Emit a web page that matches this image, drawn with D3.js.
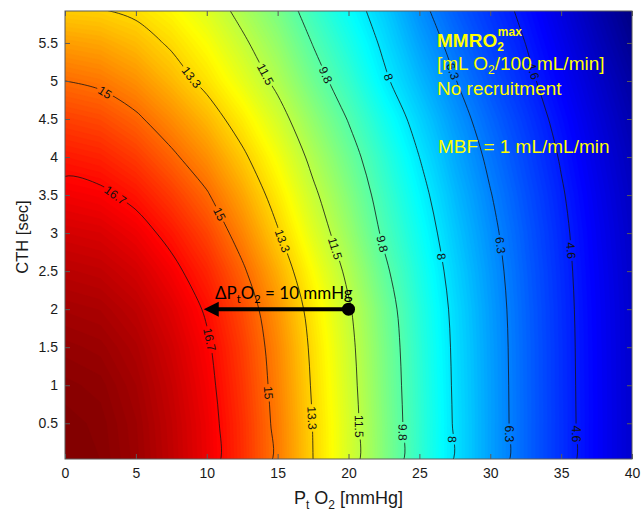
<!DOCTYPE html>
<html>
<head>
<meta charset="utf-8">
<script src="https://cdn.jsdelivr.net/npm/d3@7"></script>
<style>
  body { margin: 0; background: #fff; }
  svg text { font-family: "Liberation Sans", Arial, sans-serif; }
</style>
</head>
<body>
<svg id="chart" width="641" height="511"></svg>
<script>
// grid of the map: columns = PtO2 (mmHg), rows = CTH (sec)
const ptO2 = [0, 2.5, 5, 7.5, 10, 12.5, 15, 17.5, 20, 22.5, 25, 27.5, 30, 32.5, 35, 37.5, 40];
const cth = [0, 0.5, 1, 1.5, 2, 2.5, 3, 3.5, 4, 4.5, 5, 5.5, 6];

const mmro2 = [
  [18.9, 18.8, 18.45, 17.85, 17.1, 16.05, 14.78, 13.3, 11.94, 10.54, 9.18, 7.91, 6.82, 5.84, 4.95, 4.12, 3.37],
  [18.86, 18.76, 18.41, 17.81, 17.07, 16.02, 14.75, 13.27, 11.92, 10.52, 9.17, 7.91, 6.82, 5.84, 4.95, 4.12, 3.37],
  [18.74, 18.65, 18.3, 17.71, 16.96, 15.92, 14.66, 13.19, 11.84, 10.46, 9.13, 7.88, 6.81, 5.83, 4.94, 4.11, 3.36],
  [18.55, 18.45, 18.13, 17.55, 16.83, 15.8, 14.56, 13.1, 11.76, 10.4, 9.08, 7.85, 6.79, 5.82, 4.93, 4.1, 3.35],
  [18.28, 18.19, 17.87, 17.31, 16.6, 15.58, 14.35, 12.92, 11.61, 10.28, 8.98, 7.79, 6.75, 5.79, 4.91, 4.08, 3.33],
  [17.93, 17.83, 17.51, 16.94, 16.2, 15.15, 13.91, 12.54, 11.29, 9.99, 8.8, 7.65, 6.66, 5.73, 4.87, 4.04, 3.29],
  [17.5, 17.4, 17.05, 16.45, 15.68, 14.61, 13.38, 12.08, 10.9, 9.65, 8.56, 7.46, 6.52, 5.64, 4.8, 3.98, 3.23],
  [16.99, 16.86, 16.48, 15.84, 15.09, 14.07, 12.91, 11.68, 10.56, 9.39, 8.3, 7.25, 6.34, 5.5, 4.69, 3.88, 3.14],
  [16.4, 16.25, 15.83, 15.17, 14.44, 13.48, 12.42, 11.25, 10.19, 9.09, 8.0, 6.99, 6.12, 5.32, 4.53, 3.74, 3.01],
  [15.74, 15.58, 15.15, 14.49, 13.76, 12.86, 11.87, 10.76, 9.75, 8.67, 7.64, 6.69, 5.85, 5.09, 4.33, 3.56, 2.83],
  [15.0, 14.83, 14.41, 13.77, 13.05, 12.2, 11.28, 10.22, 9.26, 8.16, 7.23, 6.34, 5.54, 4.82, 4.09, 3.34, 2.61],
  [14.18, 14.05, 13.71, 13.17, 12.51, 11.67, 10.8, 9.76, 8.82, 7.83, 6.86, 6.01, 5.26, 4.59, 3.85, 3.07, 2.34],
  [13.28, 13.21, 13.02, 12.58, 11.96, 11.14, 10.32, 9.29, 8.39, 7.5, 6.49, 5.67, 4.99, 4.36, 3.6, 2.81, 2.07]
];

const contourLevels = [4.6, 6.3, 8, 9.8, 11.5, 13.3, 15, 16.7];
const xTicks = [0, 5, 10, 15, 20, 25, 30, 35, 40];
const yTicks = [0.5, 1, 1.5, 2, 2.5, 3, 3.5, 4, 4.5, 5, 5.5];

// CTH where each contour label sits
const labelSpots = [
  [16.7, [3.5, 1.6]],
  [15, [4.85, 3.25, 0.9]],
  [13.3, [5.05, 2.9, 0.57]],
  [11.5, [5.09, 2.8, 0.46]],
  [9.8, [5.08, 2.86, 0.38]],
  [8, [5.05, 2.69, 0.29]],
  [6.3, [5.13, 2.84, 0.36]],
  [4.6, [5.13, 2.77, 0.36]]
];

// arrow: from (20, 2) down to (10, 2)
const arrowFrom = [20, 2];
const arrowTo = [10, 2];

const svg = d3.select("#chart");
const W = 641, H = 511;

const xs = d3.scaleLinear().domain([0, 40]).range([65, 632]);
const ys = d3.scaleLinear().domain([0.03, 5.92]).range([459, 11]);

// MATLAB jet colormap
function jet(t) {
  t = Math.max(0, Math.min(1, t));
  const r = Math.max(0, Math.min(1, 4 * t - 1.5, -4 * t + 4.5));
  const g = Math.max(0, Math.min(1, 4 * t - 0.5, -4 * t + 3.5));
  const b = Math.max(0, Math.min(1, 4 * t + 0.5, -4 * t + 2.5));
  return d3.rgb(r * 255, g * 255, b * 255);
}

const nx = ptO2.length, ny = cth.length;
const flat = mmro2.flat();
const vExt = d3.extent(flat);
const color = v => jet((v - vExt[0]) / (vExt[1] - vExt[0]));

// contour grid coords -> data -> pixels
const gx = d3.scaleLinear().domain([0.5, nx - 0.5]).range([ptO2[0], ptO2[nx - 1]]);
const gy = d3.scaleLinear().domain([0.5, ny - 0.5]).range([cth[0], cth[ny - 1]]);
const proj = d3.geoTransform({
  point(x, y) { this.stream.point(xs(gx(x)), ys(gy(y))); }
});
const path = d3.geoPath(proj);

const defs = svg.append("defs");
defs.append("clipPath").attr("id", "plotClip")
  .append("rect")
  .attr("x", xs(0)).attr("y", ys.range()[1])
  .attr("width", xs(40) - xs(0)).attr("height", ys.range()[0] - ys.range()[1]);

const mask = defs.append("mask").attr("id", "labelMask")
  .attr("maskUnits", "userSpaceOnUse")
  .attr("x", 0).attr("y", 0).attr("width", W).attr("height", H);
mask.append("rect").attr("width", W).attr("height", H).attr("fill", "white");

// filled colour map
const fillThresholds = d3.range(Math.floor(vExt[0] * 10) / 10, vExt[1], 0.1);
const bands = d3.contours().size([nx, ny]).thresholds(fillThresholds)(flat);

const plot = svg.append("g").attr("clip-path", "url(#plotClip)");
plot.selectAll("path.band")
  .data(bands)
  .join("path")
  .attr("class", "band")
  .attr("d", path)
  .attr("fill", d => color(d.value + 0.05))
  .attr("stroke", d => color(d.value + 0.05))
  .attr("stroke-width", 0.6);

// contour lines
const isolines = d3.contours().size([nx, ny]).thresholds(contourLevels)(flat);
const toPx = p => [xs(gx(p[0])), ys(gy(p[1]))];
const line = d3.line().curve(d3.curveCatmullRom.alpha(0.5));

const lineG = plot.append("g").attr("mask", "url(#labelMask)");
const ringsByLevel = new Map();
isolines.forEach(c => {
  const rings = [];
  c.coordinates.forEach(poly => poly.forEach(ring => rings.push(ring.map(toPx))));
  ringsByLevel.set(c.value, rings);
  rings.forEach(r => {
    lineG.append("path")
      .attr("d", line(r))
      .attr("fill", "none")
      .attr("stroke", "#151515")
      .attr("stroke-width", 0.8);
  });
});

function placeOnContour(rings, cthVal) {
  const py = ys(cthVal);
  for (const pts of rings) {
    for (let i = 0; i < pts.length - 1; i++) {
      const [x0, y0] = pts[i], [x1, y1] = pts[i + 1];
      if (y0 === y1 || (y0 - py) * (y1 - py) > 0) continue;
      const t = (py - y0) / (y1 - y0);
      const x = x0 + t * (x1 - x0);
      if (x < xs(0) + 2 || x > xs(40) - 2) continue;
      let a = Math.atan2(y1 - y0, x1 - x0) * 180 / Math.PI;
      if (a > 90) a -= 180;
      if (a <= -90) a += 180;
      return { x, y: py, a };
    }
  }
  return null;
}

const labelG = svg.append("g");
labelSpots.forEach(([level, spots]) => {
  const rings = ringsByLevel.get(level);
  spots.forEach(c => {
    const p = placeOnContour(rings, c);
    if (!p) return;
    const tr = `translate(${p.x},${p.y}) rotate(${p.a})`;
    const txt = labelG.append("text")
      .attr("transform", tr)
      .attr("text-anchor", "middle")
      .attr("dy", "0.36em")
      .style("font-size", "12px")
      .attr("fill", "#111")
      .text(level);
    const w = txt.node().getComputedTextLength();
    mask.append("rect")
      .attr("transform", tr)
      .attr("x", -w / 2 - 2).attr("y", -6)
      .attr("width", w + 4).attr("height", 12)
      .attr("fill", "black");
  });
});

// axes: MATLAB-like inward ticks on all four sides
const axisColor = "#5a5a5a";
const xAxis = svg.append("g")
  .attr("transform", `translate(0,${ys.range()[0]})`)
  .call(d3.axisBottom(xs).tickValues(xTicks).tickSize(-5).tickPadding(9).tickSizeOuter(0));
const yAxis = svg.append("g")
  .attr("transform", `translate(${xs(0)},0)`)
  .call(d3.axisLeft(ys).tickValues(yTicks).tickFormat(d => d).tickSize(-5).tickPadding(7).tickSizeOuter(0));
const topAxis = svg.append("g")
  .attr("transform", `translate(0,${ys.range()[1]})`)
  .call(d3.axisTop(xs).tickValues(xTicks).tickFormat("").tickSize(-5).tickSizeOuter(0));
const rightAxis = svg.append("g")
  .attr("transform", `translate(${xs(40)},0)`)
  .call(d3.axisRight(ys).tickValues(yTicks).tickFormat("").tickSize(-5).tickSizeOuter(0));

[xAxis, yAxis, topAxis, rightAxis].forEach(a => {
  a.select(".domain").remove();
  a.selectAll(".tick line").attr("stroke", axisColor);
});
[xAxis, yAxis].forEach(a => {
  a.selectAll(".tick text")
    .attr("fill", "#1a1a1a")
    .style("font-size", "14px")
    .style("font-family", "'Liberation Sans', Arial, sans-serif");
});

svg.append("rect")
  .attr("x", xs(0)).attr("y", ys.range()[1])
  .attr("width", xs(40) - xs(0)).attr("height", ys.range()[0] - ys.range()[1])
  .attr("fill", "none")
  .attr("stroke", axisColor)
  .attr("stroke-width", 1);

// axis titles
const xTitle = svg.append("text")
  .attr("x", (xs(0) + xs(40)) / 2)
  .attr("y", 504)
  .attr("text-anchor", "middle")
  .attr("fill", "#1a1a1a")
  .style("font-size", "18px");
xTitle.append("tspan").text("P");
xTitle.append("tspan").attr("dy", 5).style("font-size", "12px").text("t");
xTitle.append("tspan").attr("dy", -5).text(" O");
xTitle.append("tspan").attr("dy", 5).style("font-size", "12px").text("2");
xTitle.append("tspan").attr("dy", -5).text(" [mmHg]");

svg.append("text")
  .attr("transform", `translate(28,${(ys.range()[0] + ys.range()[1]) / 2 + 2}) rotate(-90)`)
  .attr("text-anchor", "middle")
  .attr("fill", "#1a1a1a")
  .style("font-size", "16.5px")
  .text("CTH [sec]");

// arrow annotation
const ann = svg.append("g");
const ax0 = xs(arrowFrom[0]), ay = ys(arrowFrom[1]);
const ax1 = xs(arrowTo[0]) - 3;
ann.append("line")
  .attr("x1", ax0).attr("y1", ay)
  .attr("x2", ax1 + 12).attr("y2", ay)
  .attr("stroke", "black").attr("stroke-width", 4);
ann.append("path")
  .attr("d", `M${ax1},${ay} L${ax1 + 15},${ay - 7.5} L${ax1 + 15},${ay + 7.5} Z`)
  .attr("fill", "black");
ann.append("circle")
  .attr("cx", ax0).attr("cy", ay).attr("r", 6.5)
  .attr("fill", "black");

const dText = ann.append("text")
  .attr("x", 215).attr("y", ay - 10)
  .attr("fill", "black")
  .style("font-family", "Lato, 'Open Sans', sans-serif")
  .style("font-size", "17px");
dText.append("tspan").text("ΔP");
dText.append("tspan").attr("dy", 4).style("font-size", "11px").text("t");
dText.append("tspan").attr("dy", -4).text("O");
dText.append("tspan").attr("dy", 4).style("font-size", "11px").text("2");
dText.append("tspan").attr("dy", -4).text(" = 10 mmHg");

// yellow legend text
const note = svg.append("g")
  .attr("fill", "#ffff00")
  .style("font-family", "Lato, 'Open Sans', sans-serif")
  .style("font-size", "19px");
const n1 = note.append("text").attr("x", 437).attr("y", 47).style("font-weight", "bold");
n1.append("tspan").text("MMRO");
n1.append("tspan").attr("dy", 4).style("font-size", "12px").text("2");
n1.append("tspan").attr("dx", -6).attr("dy", -15).style("font-size", "12px").text("max");

const n2 = note.append("text").attr("x", 437).attr("y", 70);
n2.append("tspan").text("[mL O");
n2.append("tspan").attr("dy", 4).style("font-size", "12px").text("2");
n2.append("tspan").attr("dy", -4).text("/100 mL/min]");

note.append("text").attr("x", 437).attr("y", 95).text("No recruitment");
note.append("text").attr("x", 438).attr("y", 153).text("MBF = 1 mL/mL/min");
</script>
</body>
</html>
